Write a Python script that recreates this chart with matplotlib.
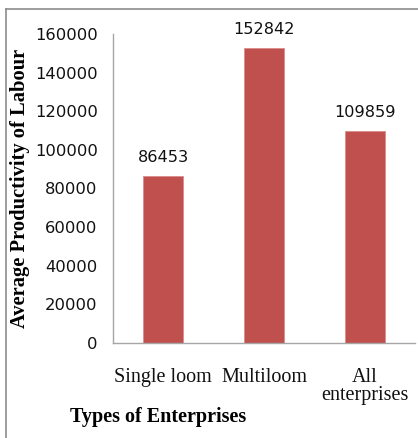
import matplotlib.pyplot as plt
from matplotlib.lines import Line2D

# Data
categories = ['Single loom', 'Multiloom', 'All\nenterprises']
productivity = [86453, 152842, 109859]
y_ticks = [0, 20000, 40000, 60000, 80000, 100000, 120000, 140000, 160000]

fig = plt.figure(figsize=(4.18, 4.38), dpi=100)
ax = fig.add_axes([113 / 418, 1 - 343 / 438, 302 / 418, 309 / 438])

x = range(len(categories))
bars = ax.bar(x, productivity, width=0.4, color='#C0504D', edgecolor='#D98C8A', linewidth=0.6)

# value labels above bars
for bar, val in zip(bars, productivity):
    ax.annotate(str(val), (bar.get_x() + bar.get_width() / 2, bar.get_height()),
                xytext=(0, 8), textcoords='offset points', ha='center', va='bottom',
                fontsize=11.6, family='DejaVu Sans', color='#111111')

ax.set_xlim(-0.5, 2.5)
ax.set_ylim(0, 160000)
ax.set_yticks(y_ticks)
ax.set_yticklabels([str(t) for t in y_ticks], family='DejaVu Sans', fontsize=11.8, color='#111111')
ax.set_xticks(list(x))
ax.set_xticklabels(categories, family='Liberation Serif', fontsize=14.5, color='#111111', linespacing=0.9)
ax.tick_params(axis='y', length=0, pad=11)
ax.tick_params(axis='x', length=0, pad=18)

for side in ['top', 'right']:
    ax.spines[side].set_visible(False)
for side in ['left', 'bottom']:
    ax.spines[side].set_color('#A6A6A6')
    ax.spines[side].set_linewidth(1.0)

fig.text(20 / 418, 1 - 188 / 438, 'Average Productivity of Labour', rotation=90,
         ha='center', va='center', family='Liberation Serif', fontweight='bold', fontsize=14.8)
fig.text(70 / 418, 1 - 417 / 438, 'Types of Enterprises', ha='left', va='center',
         family='Liberation Serif', fontweight='bold', fontsize=14.5)

# outer chart border (top and left visible)
top_y = 1 - 9 / 438
left_x = 6 / 418
fig.add_artist(Line2D([left_x, 1], [top_y, top_y], transform=fig.transFigure, color='#8C8C8C', lw=1.2))
fig.add_artist(Line2D([left_x, left_x], [0, top_y], transform=fig.transFigure, color='#8C8C8C', lw=1.2))

fig.savefig('out.png', dpi=100)
